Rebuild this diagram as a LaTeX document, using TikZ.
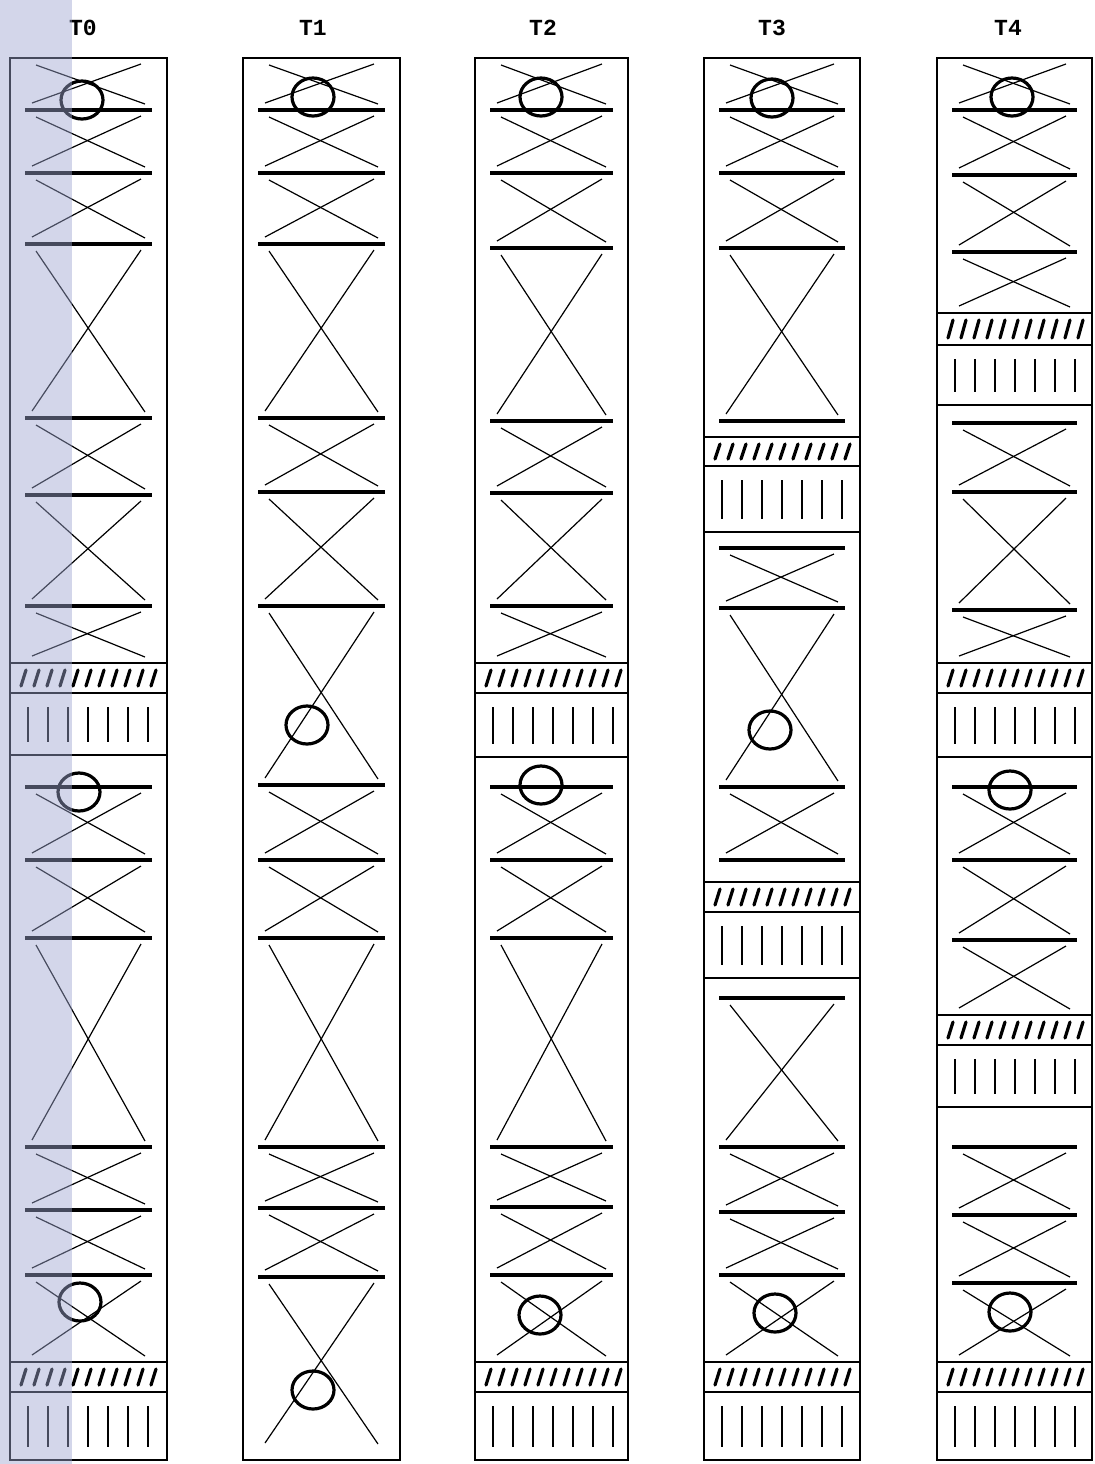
\documentclass[tikz,border=0pt]{standalone}
\usepackage{fontspec}
\setmonofont{Liberation Mono}

% kruis: links, rechts, boven, onder
\newcommand{\kruis}[4]{%
  \draw[kruislijn] (#1+26,#3+7) -- (#2-22,#4-6);
  \draw[kruislijn] (#1+22,#4-7) -- (#2-26,#3+6);}
% lat: links, rechts, hoogte
\newcommand{\lat}[3]{\draw[balklijn] (#1+15,#3) -- (#2-15,#3);}
% strook: links, rechts, boven, midden, onder
\newcommand{\strook}[5]{%
  \draw[kader] (#1,#3) -- (#2,#3) (#1,#4) -- (#2,#4) (#1,#5) -- (#2,#5);
  \foreach \i in {0,...,10} {\draw[streep] (#1+11+13*\i,#4-7) -- (#1+16+13*\i,#3+7);}
  \foreach \j in {0,...,6} {\draw[staaf] (#1+18+20*\j,#4+14) -- (#1+18+20*\j,#5-13);}}

\begin{document}
\begin{tikzpicture}[x=0.5pt,y=-0.5pt,
  kader/.style={line width=0.8pt},
  balklijn/.style={line width=1.6pt},
  kruislijn/.style={line width=0.6pt},
  streep/.style={line width=1.6pt,line cap=round},
  staaf/.style={line width=0.9pt},
  rondje/.style={line width=1.6pt},
  kop/.style={font=\ttfamily\bfseries\fontsize{11.5}{13}\selectfont},
  watermerk/.style={fill={rgb,255:red,157;green,165;blue,208},fill opacity=0.45}]
\useasboundingbox (0,0) rectangle (1095,1464);

% Kolom T0
\node[kop] (t0) at (83,28) {T0};
\draw[kader] (10,58) rectangle (167,1460);
\foreach \h in {110,173,244,418,495,606,787,860,938,1147,1210,1275} {\lat{10}{167}{\h}}
\foreach \a/\b in {58/110,110/173,173/244,244/418,418/495,495/606,606/663,787/860,860/938,938/1147,1147/1210,1210/1275,1275/1362} {\kruis{10}{167}{\a}{\b}}
\strook{10}{167}{663}{693}{755}
\strook{10}{167}{1362}{1392}{1460}
\foreach \p/\q in {82/100,79/792,80/1302} {\draw[rondje] (\p,\q) ellipse [x radius=10.5pt,y radius=9.5pt];}

% Kolom T1
\node[kop] (t1) at (313,28) {T1};
\draw[kader] (243,58) rectangle (400,1460);
\foreach \h in {110,173,244,418,492,606,785,860,938,1147,1208,1277} {\lat{243}{400}{\h}}
\foreach \a/\b in {58/110,110/173,173/244,244/418,418/492,492/606,606/785,785/860,860/938,938/1147,1147/1208,1208/1277,1277/1450} {\kruis{243}{400}{\a}{\b}}
\foreach \p/\q in {313/97,307/725,313/1390} {\draw[rondje] (\p,\q) ellipse [x radius=10.5pt,y radius=9.5pt];}

% Kolom T2
\node[kop] (t2) at (543,28) {T2};
\draw[kader] (475,58) rectangle (628,1460);
\foreach \h in {110,173,248,421,493,606,787,860,938,1147,1207,1275} {\lat{475}{628}{\h}}
\foreach \a/\b in {58/110,110/173,173/248,248/421,421/493,493/606,606/663,787/860,860/938,938/1147,1147/1207,1207/1275,1275/1362} {\kruis{475}{628}{\a}{\b}}
\strook{475}{628}{663}{693}{757}
\strook{475}{628}{1362}{1392}{1460}
\foreach \p/\q in {541/97,541/785,540/1315} {\draw[rondje] (\p,\q) ellipse [x radius=10.5pt,y radius=9.5pt];}

% Kolom T3
\node[kop] (t3) at (772,28) {T3};
\draw[kader] (704,58) rectangle (860,1460);
\foreach \h in {110,173,248,421,548,608,787,860,998,1147,1212,1275} {\lat{704}{860}{\h}}
\foreach \a/\b in {58/110,110/173,173/248,248/421,548/608,608/787,787/860,998/1147,1147/1212,1212/1275,1275/1362} {\kruis{704}{860}{\a}{\b}}
\strook{704}{860}{437}{466}{532}
\strook{704}{860}{882}{912}{978}
\strook{704}{860}{1362}{1392}{1460}
\foreach \p/\q in {772/98,770/730,775/1313} {\draw[rondje] (\p,\q) ellipse [x radius=10.5pt,y radius=9.5pt];}

% Kolom T4
\node[kop] (t4) at (1008,28) {T4};
\draw[kader] (937,58) rectangle (1092,1460);
\foreach \h in {110,175,252,423,492,610,787,860,940,1147,1215,1283} {\lat{937}{1092}{\h}}
\foreach \a/\b in {58/110,110/175,175/252,252/313,423/492,492/610,610/663,787/860,860/940,940/1015,1147/1215,1215/1283,1283/1362} {\kruis{937}{1092}{\a}{\b}}
\strook{937}{1092}{313}{345}{405}
\strook{937}{1092}{663}{693}{757}
\strook{937}{1092}{1015}{1045}{1107}
\strook{937}{1092}{1362}{1392}{1460}
\foreach \p/\q in {1012/97,1010/790,1010/1312} {\draw[rondje] (\p,\q) ellipse [x radius=10.5pt,y radius=9.5pt];}

% Band links
\fill[watermerk] (0,0) rectangle (72,1464);
\end{tikzpicture}
\end{document}
